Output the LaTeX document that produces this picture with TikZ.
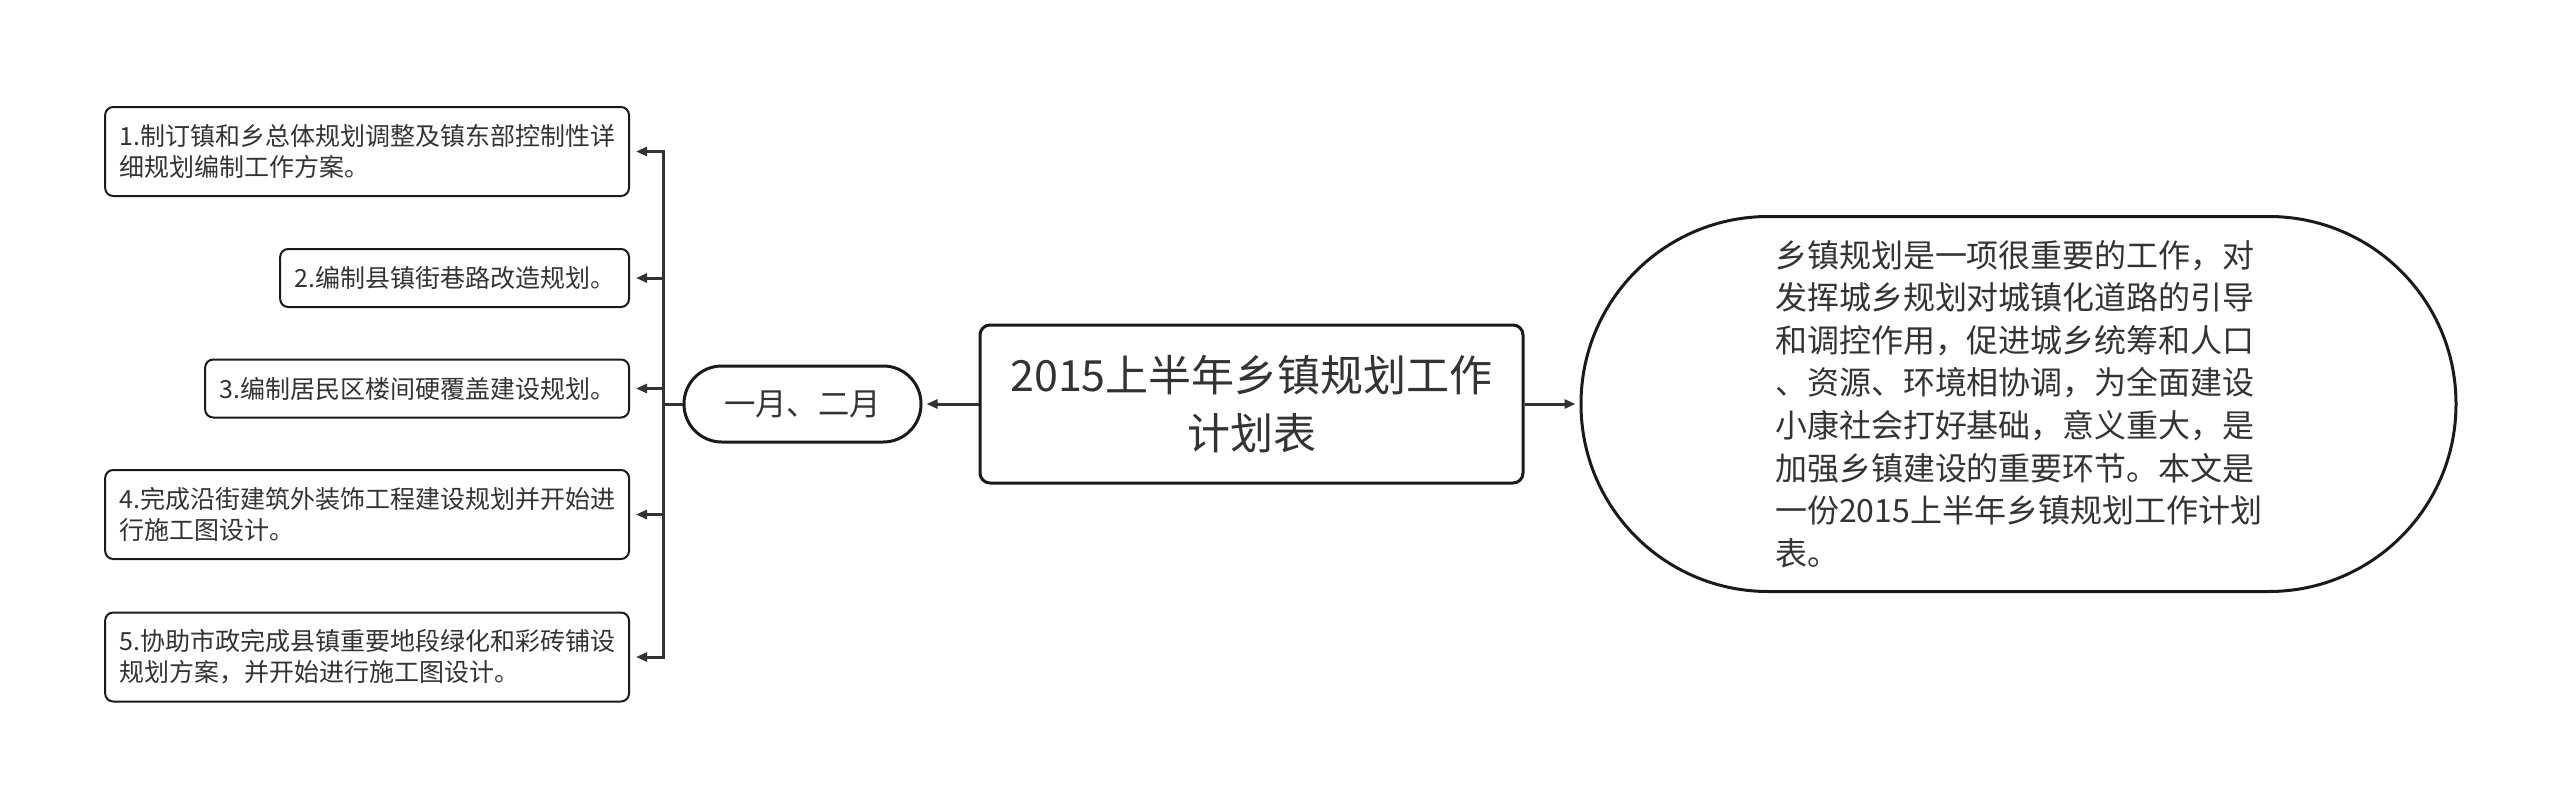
\documentclass[tikz,border=0pt]{standalone}
\usepackage{fontspec}
\setmainfont{Noto Sans CJK SC}
\usepackage{xcolor}
\definecolor{ink}{HTML}{333333}
\definecolor{edge}{HTML}{1A1A1A}
\usepackage{tikz}
\usetikzlibrary{arrows.meta,positioning}

\begin{document}
\begin{tikzpicture}[x=0.5pt,y=-0.5pt,
  root/.style={rectangle,rounded corners=5pt,draw=edge,line width=1.5pt,text=ink,
    minimum width=271.5pt,minimum height=79pt,align=center,
    font=\fontsize{21.5pt}{29pt}\selectfont},
  month/.style={rectangle,rounded corners=18.9pt,draw=edge,line width=1.5pt,text=ink,
    minimum width=118.5pt,minimum height=38pt,font=\fontsize{15.7pt}{19pt}\selectfont},
  desc/.style={rectangle,rounded corners=93.6pt,draw=edge,line width=1.5pt,text=ink,
    minimum width=437.5pt,minimum height=187.5pt,align=left,
    font=\fontsize{16pt}{21.3pt}\selectfont},
  item/.style={rectangle,rounded corners=4pt,draw=edge,line width=1pt,text=ink,
    anchor=east,align=left,inner xsep=7pt,minimum height=29pt,
    font=\fontsize{12.5pt}{15.5pt}\selectfont},
  tall/.style={item,minimum height=44.5pt},
  arr/.style={-{Triangle[length=5.5pt,width=4.5pt]},ink,line width=1.5pt,shorten >=2pt}]
  \useasboundingbox (0,0) rectangle (2560,809);
  \node[root] (root) at (1251.5,404) {2015上半年乡镇规划工作\\计划表};
  \node[month,left=28pt of root] (month) {一月、二月};
  \node[desc,right=27.5pt of root] (desc) {乡镇规划是一项很重要的工作，对\\发挥城乡规划对城镇化道路的引导\\和调控作用，促进城乡统筹和人口\\、资源、环境相协调，为全面建设\\小康社会打好基础，意义重大，是\\加强乡镇建设的重要环节。本文是\\一份2015上半年乡镇规划工作计划\\表。};
  \node[tall] (b1) at (630,151.5) {1.制订镇和乡总体规划调整及镇东部控制性详\\细规划编制工作方案。};
  \node[item] (b2) at (630,278) {2.编制县镇街巷路改造规划。};
  \node[item] (b3) at (630,388.5) {3.编制居民区楼间硬覆盖建设规划。};
  \node[tall] (b4) at (630,514.5) {4.完成沿街建筑外装饰工程建设规划并开始进\\行施工图设计。};
  \node[tall] (b5) at (630,657) {5.协助市政完成县镇重要地段绿化和彩砖铺设\\规划方案，并开始进行施工图设计。};
  \draw[arr] (root) -- (month);
  \draw[arr] (root) -- (desc);
  \foreach \b in {b1,b2,b3,b4,b5}
    \draw[arr,shorten >=3pt] (month.west) -- ++(-19,0) |- (\b.east);
\end{tikzpicture}
\end{document}
